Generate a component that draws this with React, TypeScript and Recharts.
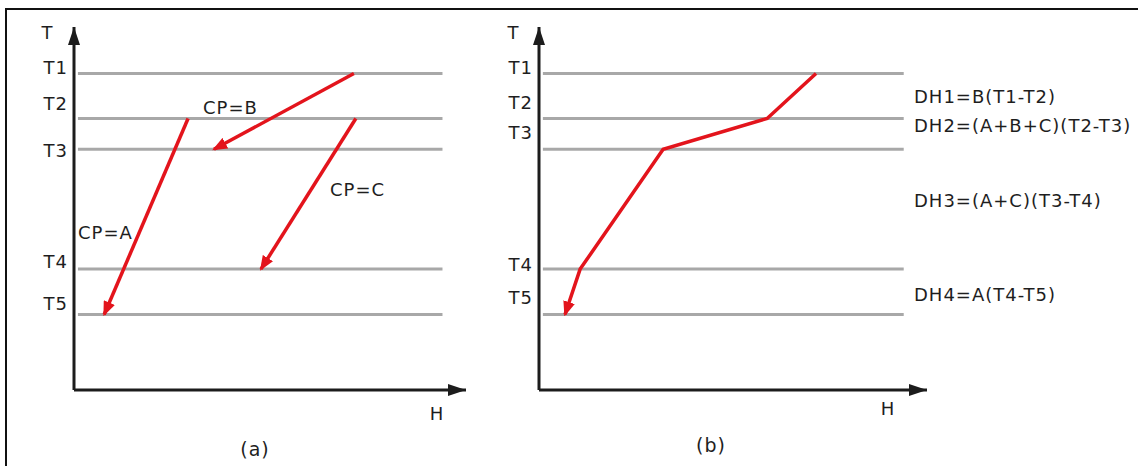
import { LineChart, Line, XAxis, YAxis, ReferenceLine } from 'recharts';

// temperature levels shared by both panels
const levelNames = ['T1', 'T2', 'T3', 'T4', 'T5'];
const levelTemps = [87.2, 74.8, 66.3, 33.3, 20.8];
const levelSpan = [1, 94];

// (a) individual streams, each cooled between two levels
const streamA = [{ h: 29.1, t: levelTemps[1] }, { h: 7.7, t: levelTemps[4] }];
const streamB = [{ h: 71.4, t: levelTemps[0] }, { h: 35.7, t: levelTemps[2] }];
const streamC = [{ h: 71.9, t: levelTemps[1] }, { h: 47.7, t: levelTemps[3] }];
const streamNames = ['CP=A', 'CP=B', 'CP=C'];

// (b) composite curve, one H value per level
const compositeH = [71.4, 58.8, 32.0, 10.6, 6.7];
const composite = compositeH.map((h, i) => ({ h, t: levelTemps[i] }));
const intervalNames = ['DH1=B(T1-T2)', 'DH2=(A+B+C)(T2-T3)', 'DH3=(A+C)(T3-T4)', 'DH4=A(T4-T5)'];

const RED = '#e3141c';
const GRAY = '#a8a8a8';
const INK = '#1c1c1c';

const textStyle = {
  fontFamily: '"DejaVu Sans", sans-serif',
  fontSize: 18,
  letterSpacing: 1,
  fill: '#1e1e1e',
};
const captionStyle = { ...textStyle, fontSize: 19 };

// vertical nudges of the T labels relative to their level line
const nudgeA = [-5.7, -15, 0.7, -7.3, -11];
const nudgeB = [-5.5, -15.5, -16.8, -4.5, -17];

function Markers({ id }: { id: string }) {
  return (
    <defs>
      <marker
        id={`${id}-axis`}
        viewBox="0 0 18 12"
        refX={18}
        refY={6}
        markerWidth={18}
        markerHeight={12}
        markerUnits="userSpaceOnUse"
        orient="auto-start-reverse"
      >
        <path d="M0,0 L18,6 L0,12 z" fill={INK} />
      </marker>
      <marker
        id={`${id}-red`}
        viewBox="0 0 15 12"
        refX={13}
        refY={6}
        markerWidth={15}
        markerHeight={12}
        markerUnits="userSpaceOnUse"
        orient="auto"
      >
        <path d="M0,0 L15,6 L0,12 z" fill={RED} />
      </marker>
    </defs>
  );
}

const levelTick = (nudge: number[]) => (props: any) => {
  const i = levelTemps.indexOf(props.payload.value);
  return (
    <text x={props.x} y={props.y + nudge[i] + 6.5} textAnchor="end" style={textStyle}>
      {levelNames[i]}
    </text>
  );
};

function arrowLine(key: string, data: { h: number; t: number }[], marker: string) {
  return (
    <Line
      key={key}
      data={data}
      dataKey="t"
      type="linear"
      stroke={RED}
      strokeWidth={3.5}
      dot={false}
      activeDot={false}
      markerEnd={`url(#${marker})`}
      isAnimationActive={false}
    />
  );
}

function levelLines() {
  return levelTemps.map((t) => (
    <ReferenceLine
      key={t}
      segment={[
        { x: levelSpan[0], y: t },
        { x: levelSpan[1], y: t },
      ]}
      stroke={GRAY}
      strokeWidth={3}
    />
  ));
}

export default function App() {
  return (
    <div style={{ position: 'absolute', left: 0, top: 0, width: 1138, height: 466, background: '#fff' }}>
      <div
        style={{
          position: 'absolute',
          left: 5,
          top: 8,
          width: 1133,
          height: 458,
          boxSizing: 'border-box',
          borderTop: '2px solid #111',
          borderLeft: '2px solid #111',
        }}
      />

      {/* (a) separate streams */}
      <div style={{ position: 'absolute', left: 0, top: 0 }}>
        <LineChart width={480} height={466} margin={{ top: 27, right: 14, bottom: 0, left: 0 }}>
          <Markers id="pa" />
          <XAxis
            type="number"
            dataKey="h"
            domain={[0, 100]}
            height={76}
            tick={false}
            tickLine={false}
            axisLine={{ stroke: INK, strokeWidth: 3, markerEnd: 'url(#pa-axis)' }}
          />
          <YAxis
            type="number"
            domain={[0, 100]}
            width={74}
            ticks={levelTemps}
            tickLine={false}
            tickSize={6}
            tickMargin={0}
            tick={levelTick(nudgeA)}
            axisLine={{ stroke: INK, strokeWidth: 3, markerStart: 'url(#pa-axis)' }}
          />
          {levelLines()}
          {arrowLine('a', streamA, 'pa-red')}
          {arrowLine('b', streamB, 'pa-red')}
          {arrowLine('c', streamC, 'pa-red')}
          <text x={47.5} y={39} textAnchor="middle" style={textStyle}>T</text>
          <text x={78} y={238.5} style={textStyle}>{streamNames[0]}</text>
          <text x={203} y={113.5} style={textStyle}>{streamNames[1]}</text>
          <text x={330} y={196} style={textStyle}>{streamNames[2]}</text>
          <text x={437} y={420} textAnchor="middle" style={textStyle}>H</text>
          <text x={255} y={456} textAnchor="middle" style={captionStyle}>(a)</text>
        </LineChart>
      </div>

      {/* (b) composite curve */}
      <div style={{ position: 'absolute', left: 480, top: 0 }}>
        <LineChart width={658} height={466} margin={{ top: 27, right: 211, bottom: 0, left: 0 }}>
          <Markers id="pb" />
          <XAxis
            type="number"
            dataKey="h"
            domain={[0, 100]}
            height={76}
            tick={false}
            tickLine={false}
            axisLine={{ stroke: INK, strokeWidth: 3, markerEnd: 'url(#pb-axis)' }}
          />
          <YAxis
            type="number"
            domain={[0, 100]}
            width={59}
            ticks={levelTemps}
            tickLine={false}
            tickSize={6}
            tickMargin={0}
            tick={levelTick(nudgeB)}
            axisLine={{ stroke: INK, strokeWidth: 3, markerStart: 'url(#pb-axis)' }}
          />
          {levelLines()}
          {arrowLine('comp', composite, 'pb-red')}
          <text x={33.5} y={39} textAnchor="middle" style={textStyle}>T</text>
          <text x={434} y={103} style={textStyle}>{intervalNames[0]}</text>
          <text x={434} y={132} style={textStyle}>{intervalNames[1]}</text>
          <text x={434} y={207} style={textStyle}>{intervalNames[2]}</text>
          <text x={434} y={301} style={textStyle}>{intervalNames[3]}</text>
          <text x={408} y={415} textAnchor="middle" style={textStyle}>H</text>
          <text x={231} y={452} textAnchor="middle" style={captionStyle}>(b)</text>
        </LineChart>
      </div>
    </div>
  );
}
